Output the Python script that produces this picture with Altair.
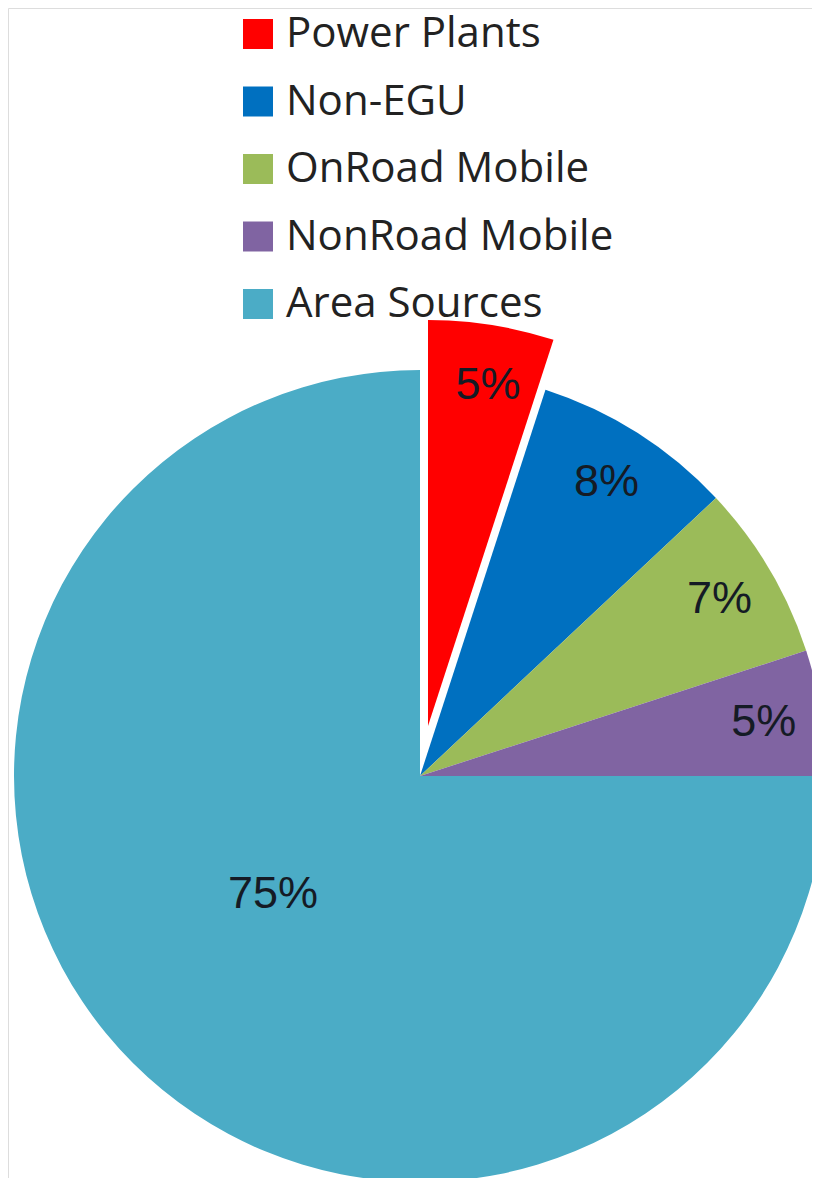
import altair as alt
import pandas as pd

categories = ["Power Plants", "Non-EGU", "OnRoad Mobile", "NonRoad Mobile", "Area Sources"]
shares = [5, 8, 7, 5, 75]
labels = ["5%", "8%", "7%", "5%", "75%"]
colors = ["#FF0000", "#0070C0", "#9BBB59", "#8064A2", "#4BACC6"]

df = pd.DataFrame({
    "category": categories,
    "share": shares,
    "label": labels,
    "idx": list(range(len(categories))),
})

W, H = 804, 1170
CX, CY = 412, 768          # pie centre (chart coords)
EX, EY = 420, 718          # exploded slice centre
R = 406

base = (
    alt.Chart(df)
    .transform_window(cum="sum(share)", sort=[alt.SortField("idx")], frame=[None, 0])
    .transform_joinaggregate(total="sum(share)")
    .transform_calculate(
        t0="(datum.cum - datum.share) / datum.total",
        t1="datum.cum / datum.total",
        tm="(datum.cum - datum.share / 2) / datum.total",
    )
)

theta_scale = alt.Scale(domain=[0, 1])

color = alt.Color(
    "category:N",
    scale=alt.Scale(domain=categories, range=colors),
    legend=alt.Legend(
        title=None,
        orient="none",
        legendX=229,
        legendY=5,
        symbolType="square",
        symbolSize=900,
        symbolStrokeWidth=0,
        labelFont="Open Sans",
        labelFontSize=42,
        labelColor="#222222",
        labelLimit=0,
        rowPadding=25.5,
        labelOffset=7,
        padding=0,
    ),
)

main_arcs = base.transform_filter("datum.category != 'Power Plants'").mark_arc(radius=R).encode(
    theta=alt.Theta("t0:Q", scale=theta_scale),
    theta2="t1:Q",
    color=color,
    x=alt.value(CX),
    y=alt.value(CY),
)

exploded = base.transform_filter("datum.category == 'Power Plants'").mark_arc(radius=R).encode(
    theta=alt.Theta("t0:Q", scale=theta_scale),
    theta2="t1:Q",
    color=color,
    x=alt.value(EX),
    y=alt.value(EY),
)

text_kw = dict(font="Liberation Sans", fontSize=45, color="#151b25", align="center", baseline="middle")

lab_exploded = base.transform_filter("datum.category == 'Power Plants'").mark_text(dx=6, **text_kw).encode(
    theta=alt.Theta("tm:Q", scale=theta_scale),
    radius=alt.value(345),
    text="label:N",
    x=alt.value(EX),
    y=alt.value(EY),
)

lab_small = base.transform_filter(
    "datum.category != 'Power Plants' && datum.category != 'Area Sources'"
).mark_text(**text_kw).encode(
    theta=alt.Theta("tm:Q", scale=theta_scale),
    radius=alt.value(348),
    text="label:N",
    x=alt.value(CX),
    y=alt.value(CY),
)

lab_big = base.transform_filter("datum.category == 'Area Sources'").mark_text(dx=-14, dy=-15, **text_kw).encode(
    theta=alt.Theta("tm:Q", scale=theta_scale),
    radius=alt.value(188),
    text="label:N",
    x=alt.value(CX),
    y=alt.value(CY),
)

chart = (
    alt.layer(main_arcs, exploded, lab_exploded, lab_small, lab_big)
    .properties(width=W, height=H, autosize=alt.AutoSizeParams(type="none"), padding=0)
    .configure_view(strokeWidth=0, strokeOpacity=0, fill="white")
    .configure(background="white")
)

chart.save("out.html", embed_options={"renderer": "svg", "actions": False})
